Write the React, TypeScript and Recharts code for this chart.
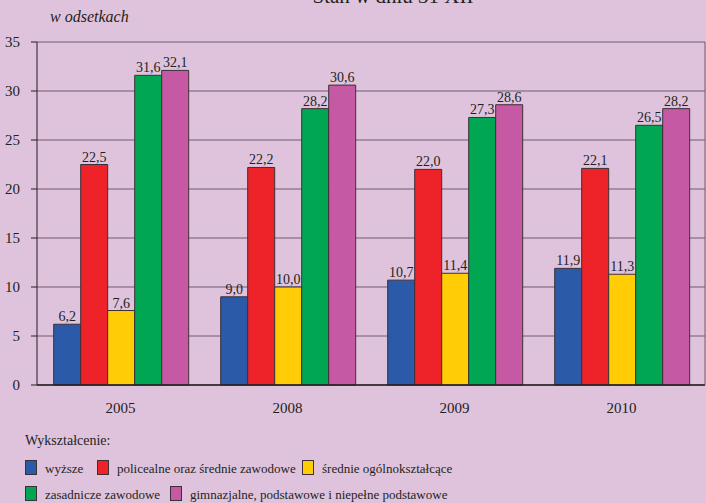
import { BarChart, Bar, XAxis, YAxis, CartesianGrid, LabelList } from 'recharts'

const years = ['2005', '2008', '2009', '2010']
const wyzsze = [6.2, 9.0, 10.7, 11.9]
const policealne = [22.5, 22.2, 22.0, 22.1]
const srednieOgolne = [7.6, 10.0, 11.4, 11.3]
const zasadnicze = [31.6, 28.2, 27.3, 26.5]
const gimnazjalne = [32.1, 30.6, 28.6, 28.2]
const yTicks = [0, 5, 10, 15, 20, 25, 30, 35]

const series = [
  { key: 'wyzsze', name: 'wyższe', color: '#2a5aa8', values: wyzsze },
  { key: 'policealne', name: 'policealne oraz średnie zawodowe', color: '#ee2229', values: policealne },
  { key: 'srednie', name: 'średnie ogólnokształcące', color: '#ffcc05', values: srednieOgolne },
  { key: 'zasadnicze', name: 'zasadnicze zawodowe', color: '#00a651', values: zasadnicze },
  { key: 'gimnazjalne', name: 'gimnazjalne, podstawowe i niepełne podstawowe', color: '#c659a3', values: gimnazjalne },
]

const data = years.map((year, i) => {
  const row: Record<string, string | number> = { year }
  series.forEach((s) => {
    row[s.key] = s.values[i]
  })
  return row
})

const font = "'Liberation Serif', 'DejaVu Serif', serif"
const ink = '#231f20'
const bg = '#dfc3dd'

const fmt = (v: unknown) => Number(v).toFixed(1).replace('.', ',')

// legend item placement (left px, top px)
const legendSlots = [
  { x: 25, y: 460 },
  { x: 97, y: 460 },
  { x: 302, y: 460 },
  { x: 25, y: 486 },
  { x: 170, y: 486 },
]

function LegendBox() {
  return (
    <div style={{ fontFamily: font, fontSize: 13, color: ink, whiteSpace: 'nowrap' }}>
      <div style={{ position: 'absolute', left: 25, top: 433, fontSize: 14 }}>Wykształcenie:</div>
      {series.map((s, i) => (
        <div key={s.key} style={{ position: 'absolute', left: legendSlots[i].x, top: legendSlots[i].y, lineHeight: '16px' }}>
          <span
            style={{
              display: 'inline-block',
              width: 10,
              height: 13,
              background: s.color,
              border: '1px solid #3a3035',
              marginRight: 8,
              verticalAlign: -2,
            }}
          />
          {s.name}
        </div>
      ))}
    </div>
  )
}

export default function App() {
  return (
    <div style={{ position: 'absolute', left: 0, top: 0, width: 706, height: 503, background: bg, overflow: 'hidden' }}>
      <div
        style={{
          position: 'absolute',
          left: 0,
          width: 786,
          top: -16,
          textAlign: 'center',
          fontFamily: font,
          fontSize: 21,
          color: ink,
        }}
      >
        Stan w dniu 31 XII
      </div>
      <div
        style={{
          position: 'absolute',
          left: 50,
          top: 8,
          fontFamily: font,
          fontStyle: 'italic',
          fontSize: 16,
          color: ink,
        }}
      >
        w odsetkach
      </div>
      <BarChart
        width={706}
        height={503}
        data={data}
        margin={{ top: 42, right: 0, bottom: 88, left: 0 }}
        barCategoryGap="10%"
        barGap={0}
        style={{ position: 'absolute', left: 0, top: 0 }}
      >
        <CartesianGrid vertical={false} stroke="#6e5c6d" strokeWidth={1} />
        <XAxis
          dataKey="year"
          tickLine={false}
          tickSize={0}
          tickMargin={17}
          axisLine={{ stroke: ink, strokeWidth: 1.5 }}
          tick={{ fill: ink, fontSize: 15, fontFamily: font }}
          height={30}
        />
        <YAxis
          domain={[0, 35]}
          ticks={yTicks}
          width={37}
          tickSize={6}
          tickMargin={11}
          tickLine={{ stroke: ink }}
          axisLine={{ stroke: ink }}
          tick={{ fill: ink, fontSize: 15, fontFamily: font }}
        />
        <YAxis
          yAxisId="right"
          orientation="right"
          domain={[0, 35]}
          width={1}
          tick={false}
          tickLine={false}
          axisLine={{ stroke: '#6e5c6d' }}
        />
        {series.map((s) => (
          <Bar
            key={s.key}
            dataKey={s.key}
            name={s.name}
            fill={s.color}
            stroke="#3a3035"
            strokeWidth={1}
            isAnimationActive={false}
          >
            <LabelList
              dataKey={s.key}
              position="top"
              offset={3}
              formatter={fmt}
              style={{ fill: ink, fontSize: 14, fontFamily: font }}
            />
          </Bar>
        ))}
      </BarChart>
      <LegendBox />
    </div>
  )
}
